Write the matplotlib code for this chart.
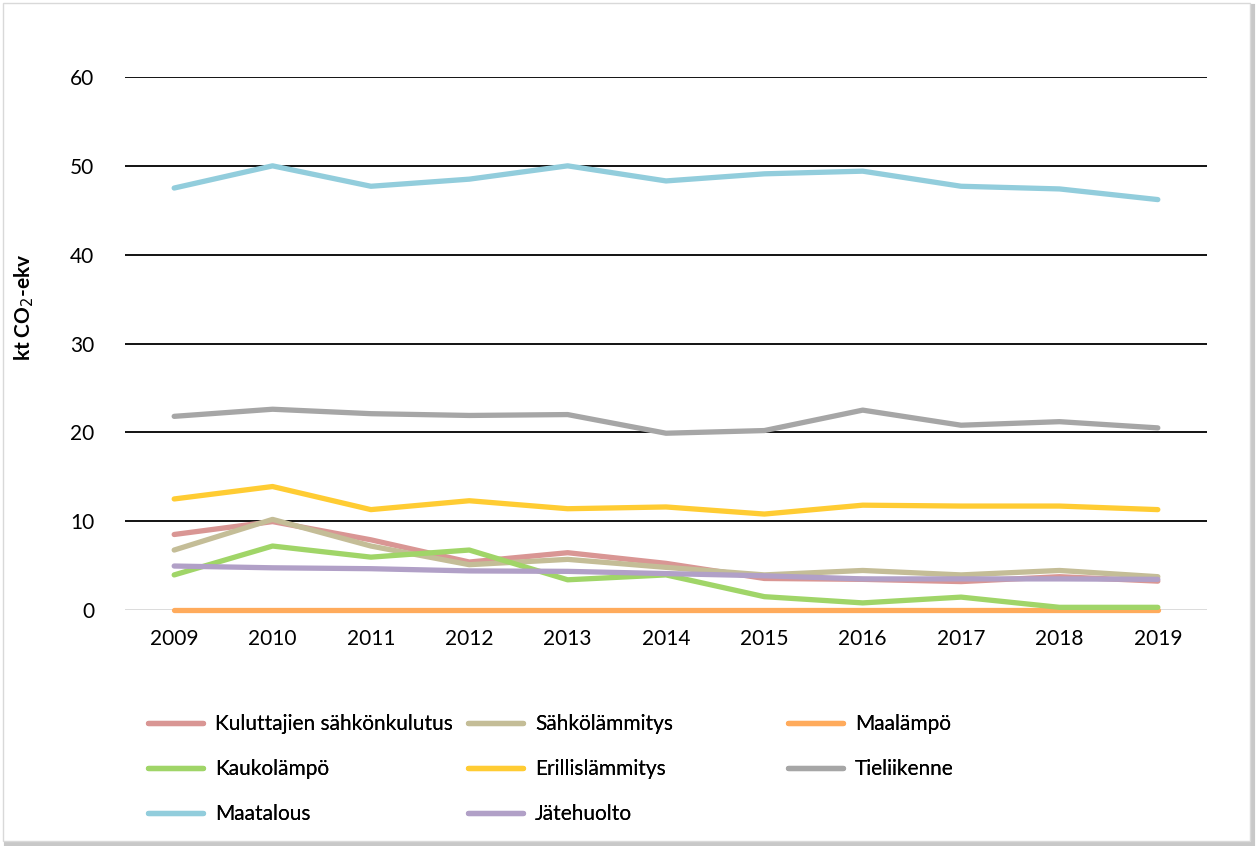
import matplotlib.pyplot as plt
from matplotlib.patches import Rectangle

plt.rcParams['font.family'] = ['Lato', 'DejaVu Sans']

years = ['2009', '2010', '2011', '2012', '2013', '2014', '2015', '2016', '2017', '2018', '2019']

kuluttajien = [8.5, 9.95, 7.9, 5.4, 6.45, 5.25, 3.55, 3.45, 3.2, 3.75, 3.25]
sahkolammitys = [6.75, 10.2, 7.2, 5.1, 5.7, 4.8, 3.95, 4.45, 3.95, 4.45, 3.75]
maalampo = [0.05, 0.05, 0.05, 0.05, 0.05, 0.05, 0.05, 0.05, 0.05, 0.05, 0.05]
kaukolampo = [3.95, 7.2, 5.95, 6.75, 3.4, 3.95, 1.5, 0.8, 1.45, 0.3, 0.3]
erillislammitys = [12.5, 13.9, 11.3, 12.3, 11.4, 11.6, 10.8, 11.8, 11.7, 11.7, 11.3]
tieliikenne = [21.8, 22.6, 22.1, 21.9, 22.0, 19.9, 20.2, 22.5, 20.8, 21.2, 20.5]
maatalous = [47.5, 50.0, 47.7, 48.5, 50.0, 48.3, 49.1, 49.4, 47.7, 47.4, 46.2]
jatehuolto = [4.95, 4.75, 4.65, 4.4, 4.35, 4.1, 3.85, 3.5, 3.5, 3.5, 3.45]

series = [
    ('Kuluttajien sähkönkulutus', kuluttajien, '#D99694'),
    ('Sähkölämmitys', sahkolammitys, '#C4BD97'),
    ('Maalämpö', maalampo, '#FFAB5C'),
    ('Kaukolämpö', kaukolampo, '#A0D568'),
    ('Erillislämmitys', erillislammitys, '#FFCC33'),
    ('Tieliikenne', tieliikenne, '#A6A6A6'),
    ('Maatalous', maatalous, '#92CDDC'),
    ('Jätehuolto', jatehuolto, '#B1A0C7'),
]

fig = plt.figure(figsize=(12.58, 8.46), dpi=100)
ax = fig.add_axes([125 / 1258, 1 - 610 / 846, (1207 - 125) / 1258, (610 - 77) / 846])
ax.set_zorder(2)
ax.patch.set_alpha(0)

# chart border with a soft shadow
fig.patches.append(Rectangle((6 / 1258, 2 / 846), 1247 / 1258, 838 / 846, transform=fig.transFigure,
                             facecolor='none', edgecolor='#C8C8C8', lw=3, zorder=-2))
fig.patches.append(Rectangle((3 / 1258, 5 / 846), 1247 / 1258, 838 / 846, transform=fig.transFigure,
                             facecolor='white', edgecolor='#D9D9D9', lw=1, zorder=-1))

x = list(range(len(years)))
handles = {}
for name, vals, col in series:
    h, = ax.plot(x, vals, color=col, lw=3.8, solid_capstyle='round', solid_joinstyle='round',
                 label=name, zorder=3, clip_on=False)
    handles[name] = h

ax.set_xlim(-0.5, len(years) - 0.5)
ax.set_ylim(0, 60)
ax.set_yticks([0, 10, 20, 30, 40, 50, 60])
ax.set_xticks(x)
ax.set_xticklabels(years)
for yv in [10, 20, 30, 40, 50, 60]:
    ax.axhline(yv, color='black', lw=1.3, zorder=1)
ax.axhline(0, color='#D9D9D9', lw=1.3, zorder=1)
for s in ax.spines.values():
    s.set_visible(False)
ax.tick_params(length=0, labelsize=15, colors='black')
ax.tick_params(axis='y', pad=22)
ax.tick_params(axis='x', pad=14)

fig.text(24 / 1258, 1 - 307 / 846, 'kt CO$_2$-ekv', rotation=90, ha='center', va='center',
         fontsize=15, fontweight='bold')

cols = [
    ['Kuluttajien sähkönkulutus', 'Kaukolämpö', 'Maatalous'],
    ['Sähkölämmitys', 'Erillislämmitys', 'Jätehuolto'],
    ['Maalämpö', 'Tieliikenne'],
]
xs = [140, 460, 780]
for cx, names in zip(xs, cols):
    leg = fig.legend([handles[n] for n in names], names, loc='upper left',
                     bbox_to_anchor=(cx / 1258, 1 - 706 / 846), frameon=False, fontsize=15,
                     handlelength=2.6, handletextpad=0.6, labelspacing=1.2, borderaxespad=0)
    fig.add_artist(leg)

fig.savefig('out.png', dpi=100)
